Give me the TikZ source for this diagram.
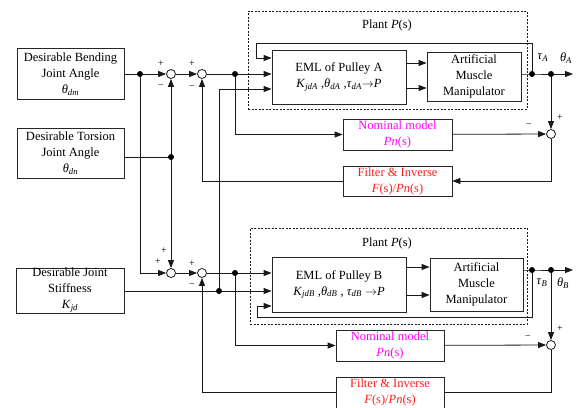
\documentclass[tikz,border=0pt]{standalone}
\usepackage{fontspec}
\setmainfont{Liberation Serif}
\usetikzlibrary{arrows.meta}
\newcommand\vrb[2]{\textit{#1}\textsubscript{\textit{#2}}}
\definecolor{magtxt}{RGB}{255,0,255}
\definecolor{redtxt}{RGB}{255,30,30}
\begin{document}
\begin{tikzpicture}[x=1pt,y=-1pt,
  font=\fontsize{12.5}{16}\selectfont,
  line width=0.8pt, draw=black!90,
  >={Triangle[length=8pt,width=6pt]},
  blk/.style={draw=black!85, inner sep=0pt, align=center, fill=white},
  sumj/.style={circle, draw=black!90, fill=white, minimum size=9pt, inner sep=0pt},
  dotn/.style={circle, fill=black, minimum size=6pt, inner sep=0pt},
  sgn/.style={font=\fontsize{10}{10}\selectfont, inner sep=0pt},
  plantbox/.style={draw=black!90, dash pattern=on 2pt off 1.5pt, inner sep=0pt},
  lbl/.style={inner sep=0pt},
]
\useasboundingbox (0,0) rectangle (578,407);
% plant frames
\node[plantbox, minimum width=279pt, minimum height=98pt] (plantA) at (387.5,60) {};
\node[plantbox, minimum width=277pt, minimum height=96pt] (plantB) at (388.5,276) {};
\node[lbl] (plA) at (387,25) {Plant \textit{P}(s)};
\node[lbl] (plB) at (387,243) {Plant \textit{P}(s)};
% blocks
\node[blk, minimum width=107pt, minimum height=51pt] (bend) at (70.5,74) {Desirable Bending\\Joint Angle\\\vrb{θ}{dm}};
\node[blk, minimum width=107pt, minimum height=50pt] (tors) at (70.5,153) {Desirable Torsion\\Joint Angle\\\vrb{θ}{dn}};
\node[blk, minimum width=108pt, minimum height=45pt] (stiff) at (70,290.5) {Desirable Joint\\Stiffness\\\vrb{K}{jd}};
\node[blk, minimum width=134pt, minimum height=54pt] (emlA) at (339,77) {EML of Pulley A\\\vrb{K}{jdA} ,\vrb{θ}{dA} ,\vrb{τ}{dA}$\rightarrow$\textit{P}};
\node[blk, minimum width=94pt, minimum height=49pt] (ammA) at (474,76.5) {Artificial\\Muscle\\Manipulator};
\node[blk, minimum width=134pt, minimum height=55pt] (emlB) at (339,284.5) {EML of Pulley B\\\vrb{K}{jdB} ,\vrb{θ}{dB} , \vrb{τ}{dB} $\rightarrow$\textit{P}};
\node[blk, minimum width=93pt, minimum height=53pt] (ammB) at (476.5,284.5) {Artificial\\Muscle\\Manipulator};
\node[blk, minimum width=109pt, minimum height=31pt, text=magtxt] (nomA) at (397.5,134.5) {Nominal model\\\textit{Pn}(s)};
\node[blk, minimum width=109pt, minimum height=30pt, text=redtxt] (filA) at (397.5,181) {Filter \& Inverse\\\textit{F}(s)/\textit{Pn}(s)};
\node[blk, minimum width=108pt, minimum height=31pt, text=magtxt] (nomB) at (390,345.5) {Nominal model\\\textit{Pn}(s)};
\node[blk, minimum width=108pt, minimum height=31pt, text=redtxt] (filB) at (390,392.5) {Filter \& Inverse\\\textit{F}(s)/\textit{Pn}(s)};
% summing junctions
\node[sumj] (s1) at (171,74) {};
\node[sumj] (s2) at (202,74) {};
\node[sumj] (s3) at (171,273) {};
\node[sumj] (s5) at (202,273) {};
\node[sumj] (s4) at (551,134) {};
\node[sumj] (s6) at (551,345) {};
% branch points
\coordinate (d1) at (140,74);
\coordinate (d2) at (171,157);
\coordinate (d3) at (235,74);
\coordinate (d4) at (219,291);
\coordinate (d5) at (235,273);
\coordinate (tA) at (532,74);
\coordinate (oA) at (551,74);
\coordinate (outA) at (573,74);
\coordinate (tB) at (532,270);
\coordinate (oB) at (551,270);
\coordinate (outB) at (573,270);
\coordinate (kA) at (219,89);
\coordinate (fA) at (256,58);
\coordinate (fB) at (257,306);
\coordinate (yA1) at (0,63);
\coordinate (yA2) at (0,88);
\coordinate (yB1) at (0,267);
\coordinate (yB2) at (0,295);
% ---- upper loop
\draw (bend.east) -- (d1);
\draw[->] (d1) -- (s1);
\draw[->] (d1) |- (s3);
\draw ([yshift=-4pt]tors.east) -- (d2);
\draw[->] (d2) -- (s1);
\draw[->] (d2) -- (s3);
\draw[->] (s1) -- (s2);
\draw[->] (s2) -- (emlA.west |- s2);
\draw[->] (d3) |- (nomA);
\draw[->] (nomA) -- (s4);
\draw (ammA.east |- tA) -- (tA) -- (oA);
\draw[->] (oA) -- (outA);
\draw[->] (tA) |- ([yshift=15pt]fA) -- (fA) -- (emlA.west |- fA);
\draw[->] (oA) -- (s4);
\draw[->] (s4) |- (filA);
\draw[->] (filA) -| (s2);
\draw[->] (emlA.east |- yA1) -- (ammA.west |- yA1);
\draw[->] (emlA.east |- yA2) -- (ammA.west |- yA2);
\draw (stiff.east |- d4) -- (d4);
\draw[->] (d4) -- (emlB.west |- d4);
\draw[->] (d4) -- (kA) -- (emlA.west |- kA);
% ---- lower loop
\draw[->] (s3) -- (s5);
\draw[->] (s5) -- (emlB.west |- s5);
\draw[->] (d5) |- (nomB);
\draw[->] (nomB) -- (s6);
\draw (ammB.east |- tB) -- (tB) -- (oB);
\draw[->] (oB) -- (outB);
\draw[->] (tB) |- ([yshift=-11pt]fB) -- (fB) -- (emlB.west |- fB);
\draw[->] (oB) -- (s6);
\draw (s6) |- (filB);
\draw[->] (filB) -| (s5);
\draw[->] (emlB.east |- yB1) -- (ammB.west |- yB1);
\draw[->] (emlB.east |- yB2) -- (ammB.west |- yB2);
% dots
\foreach \p in {d1,d2,d3,d4,d5,tA,oA,tB,oB} \node[dotn] at (\p) {};
% signs
\node[sgn] (g1) at (161,64) {+};
\node[sgn] (g2) at (161,87) {−};
\node[sgn] (g3) at (192,64) {+};
\node[sgn] (g4) at (192,88) {−};
\node[sgn] (g5) at (164,251) {+};
\node[sgn] (g6) at (158,262) {+};
\node[sgn] (g7) at (192,264) {+};
\node[sgn] (g8) at (192,286) {−};
\node[sgn] (g9) at (560,118) {+};
\node[sgn] (g10) at (529,126) {−};
\node[sgn] (g11) at (560,329) {+};
\node[sgn] (g12) at (528,338) {−};
% outputs labels
\node[lbl] (lt1) at (543,58) {\vrb{τ}{A}};
\node[lbl] (lo1) at (566,58) {\vrb{θ}{A}};
\node[lbl] (lt2) at (542,283) {\vrb{τ}{B}};
\node[lbl] (lo2) at (563,283) {\vrb{θ}{B}};
\end{tikzpicture}
\end{document}
